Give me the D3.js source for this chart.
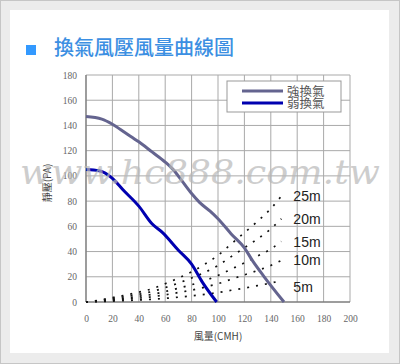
<!DOCTYPE html>
<html>
<head>
<meta charset="utf-8">
<script src="https://cdn.jsdelivr.net/npm/d3@7/dist/d3.min.js"></script>
<style>
  html, body { margin: 0; padding: 0; background: #ececec; }
  svg { display: block; }
</style>
</head>
<body>
<svg id="chart" width="400" height="364"></svg>
<script>
// Axis ticks
const flowTicks = [0, 20, 40, 60, 80, 100, 120, 140, 160, 180, 200];
const pressureTicks = [0, 20, 40, 60, 80, 100, 120, 140, 160, 180];

// Fan curves: flow (CMH) vs static pressure (PA)
const strongFlow = [0, 12, 20, 30, 40, 50, 60, 66, 72, 80, 86, 94, 100, 110, 120, 126, 135, 150];
const strongPressure = [147, 145, 141, 134, 127, 119, 111, 105, 97, 86, 79, 72, 66, 54, 43, 33, 20, 0];
const weakFlow = [0, 10, 20, 28, 40, 50, 58, 70, 80, 88, 99];
const weakPressure = [105, 104, 98, 89, 76, 62, 55, 41, 30, 16, 0];

// Duct resistance curves for several duct lengths
const ductLabels = ["25m", "20m", "15m", "10m", "5m"];
const ductFlow = [0, 10, 20, 30, 40, 50, 60, 70, 80, 90, 100, 110, 120, 130, 140, 148];
const duct25 = [0, 1.5, 3.5, 5.5, 7.8, 10.5, 14.5, 19, 24, 30, 37, 46, 55, 64, 74, 84];
const duct20 = [0, 1.2, 2.8, 4.3, 6.1, 8.3, 11.4, 15, 19, 23.5, 29, 36, 43, 50, 58, 66];
const duct15 = [0, 0.9, 2, 3.1, 4.5, 6, 8.3, 10.9, 13.7, 17, 21, 26, 31, 36.5, 42, 48];
const duct10 = [0, 0.6, 1.4, 2.2, 3.1, 4.1, 5.7, 7.5, 9.4, 11.8, 14.5, 18, 21.5, 25, 29, 33];
const duct5 = [0, 0.3, 0.7, 1.1, 1.6, 2.1, 2.9, 3.8, 4.9, 6, 7.5, 9.3, 11, 13, 15, 17];

const legendNames = ["強換氣", "弱換氣"];

const svg = d3.select("#chart");
const W = 400, H = 364;

// page frame
svg.append("rect").attr("x", 0.5).attr("y", 0.5).attr("width", W - 1).attr("height", H - 1)
  .attr("fill", "#ececec").attr("stroke", "#c6c6c6");
svg.append("rect").attr("x", 10).attr("y", 10).attr("width", 379).attr("height", 343)
  .attr("fill", "#ffffff");

// heading
svg.append("rect").attr("x", 26).attr("y", 45).attr("width", 10).attr("height", 10)
  .attr("fill", "#3399ff");
svg.append("text").attr("x", 54).attr("y", 55)
  .attr("font-family", "'Noto Sans CJK TC', 'Noto Sans CJK SC', sans-serif")
  .attr("font-size", 20).attr("font-weight", 500).attr("fill", "#3c8fe2")
  .text("換氣風壓風量曲線圖");

const x = d3.scaleLinear().domain([0, 200]).range([86, 350]);
const y = d3.scaleLinear().domain([0, 180]).range([302, 75]);

// grid
const grid = svg.append("g");
grid.selectAll("line.v").data(flowTicks).join("line")
  .attr("x1", d => x(d)).attr("x2", d => x(d))
  .attr("y1", y(0)).attr("y2", y(180))
  .attr("stroke", "#a9a9a9").attr("stroke-width", 1);
grid.selectAll("line.h").data(pressureTicks).join("line")
  .attr("y1", d => y(d)).attr("y2", d => y(d))
  .attr("x1", x(0)).attr("x2", x(200))
  .attr("stroke", "#a9a9a9").attr("stroke-width", 1);
// axis lines
svg.append("line").attr("x1", x(0)).attr("x2", x(200)).attr("y1", y(0)).attr("y2", y(0))
  .attr("stroke", "#666").attr("stroke-width", 1.2);
svg.append("line").attr("x1", x(0)).attr("x2", x(0)).attr("y1", y(0)).attr("y2", y(180))
  .attr("stroke", "#777").attr("stroke-width", 1.2);

// tick labels via d3 axes
const tickFont = "'Liberation Serif', 'DejaVu Serif', serif";
const xAxis = svg.append("g").attr("transform", `translate(0,${y(0)})`)
  .call(d3.axisBottom(x).tickValues(flowTicks).tickSize(0).tickPadding(13));
const yAxis = svg.append("g").attr("transform", `translate(${x(0)},0)`)
  .call(d3.axisLeft(y).tickValues(pressureTicks).tickSize(0).tickPadding(9));
[xAxis, yAxis].forEach(a => {
  a.select(".domain").remove();
  a.selectAll("text").attr("font-family", tickFont).attr("font-size", 9.5).attr("fill", "#666");
});

// axis titles
svg.append("text").attr("x", 218).attr("y", 340).attr("text-anchor", "middle")
  .attr("font-family", "'Noto Sans CJK TC', sans-serif").attr("font-size", 10).attr("fill", "#444")
  .text("風量(CMH)");
svg.append("text").attr("transform", "translate(51,183) rotate(-90)").attr("text-anchor", "middle")
  .attr("font-family", "'Noto Sans CJK TC', sans-serif").attr("font-size", 10).attr("fill", "#444")
  .text("靜壓(PA)");

// duct resistance curves (dotted)
const line = d3.line().x(d => x(d[0])).y(d => y(d[1])).curve(d3.curveMonotoneX);
const ductSeries = [duct25, duct20, duct15, duct10, duct5];
const labelShift = [0, 0, 0, 0, 6];
ductSeries.forEach((vals, i) => {
  const pts = ductFlow.map((f, j) => [f, vals[j]]);
  svg.append("path").attr("d", line(pts)).attr("fill", "none")
    .attr("stroke", "#111").attr("stroke-width", 1.7).attr("stroke-dasharray", "2,7");
  const last = pts[pts.length - 1];
  svg.append("text").attr("x", x(last[0]) + 12).attr("y", y(last[1]) + labelShift[i])
    .attr("dy", "0.36em")
    .attr("font-family", "'Liberation Sans', Arial, sans-serif").attr("font-size", 14)
    .attr("fill", "#222").text(ductLabels[i]);
});

// fan curves
const strongColor = "#64648f", weakColor = "#0000b0";
svg.append("path").attr("d", line(strongFlow.map((f, i) => [f, strongPressure[i]])))
  .attr("fill", "none").attr("stroke", strongColor).attr("stroke-width", 3);
svg.append("path").attr("d", line(weakFlow.map((f, i) => [f, weakPressure[i]])))
  .attr("fill", "none").attr("stroke", weakColor).attr("stroke-width", 3);

// legend
const lg = svg.append("g");
lg.append("rect").attr("x", 227).attr("y", 81).attr("width", 114).attr("height", 31)
  .attr("fill", "#fff").attr("stroke", "#999");
[strongColor, weakColor].forEach((c, i) => {
  const ly = 91 + i * 12;
  lg.append("line").attr("x1", 242).attr("x2", 283).attr("y1", ly).attr("y2", ly)
    .attr("stroke", c).attr("stroke-width", 3);
  lg.append("text").attr("x", 287).attr("y", ly).attr("dy", "0.36em")
    .attr("font-family", "'Noto Sans CJK TC', sans-serif").attr("font-size", 12.5)
    .attr("fill", "#555").text(legendNames[i]);
});

// site watermark
svg.append("text").attr("x", 20).attr("y", 184)
  .attr("font-family", "'DejaVu Serif', serif").attr("font-style", "italic")
  .attr("font-size", 34).attr("textLength", 360).attr("lengthAdjust", "spacingAndGlyphs")
  .attr("fill", "#b8b8b8").attr("opacity", 0.7)
  .text("www.hc888.com.tw");
</script>
</body>
</html>
